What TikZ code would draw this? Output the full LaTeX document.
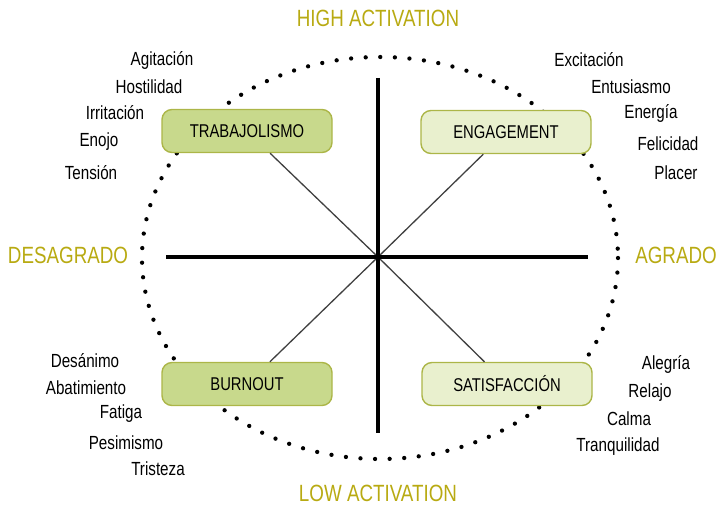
\documentclass[tikz,border=0pt]{standalone}
\usepackage{fontspec}
\setmainfont{Liberation Sans}[FakeStretch=0.8]
\definecolor{titleolive}{RGB}{184,170,18}
\definecolor{boxedge}{RGB}{172,182,72}
\definecolor{darkfill}{RGB}{200,217,140}
\definecolor{lightfill}{RGB}{233,240,206}
\tikzset{
  quadbox/.style={draw=boxedge, line width=1.4pt, rounded corners=10pt, minimum width=170pt, minimum height=43pt, font=\fontsize{18.5}{20}\selectfont},
  axislabel/.style={text=titleolive, font=\fontsize{23.5}{26}\selectfont},
  word/.style={black, font=\fontsize{19}{21}\selectfont, inner sep=0pt}
}
\begin{document}
\begin{tikzpicture}[x=1pt, y=-1pt]
    \useasboundingbox (0,0) rectangle (718,511);
    \coordinate (c) at (378,257);

    % dotted circle
    \draw[black, line width=4.3pt, line cap=round, dash pattern=on 0pt off 14.6pt] (380,258) ellipse[x radius=238, y radius=201];

    % boxes
    \node[quadbox, fill=darkfill] (trab) at (247,131) {TRABAJOLISMO};
    \node[quadbox, fill=lightfill] (eng) at (506,132) {ENGAGEMENT};
    \node[quadbox, fill=darkfill] (burn) at (247,384) {BURNOUT};
    \node[quadbox, fill=lightfill] (sat) at (507,384) {SATISFACCIÓN};

    % diagonals
    \foreach \b in {trab, eng, burn, sat}
      \draw[black!75, line width=1.3pt] (c) -- (\b);

    % axes
    \coordinate (top) at (378,78);
    \coordinate (bot) at (378,433);
    \coordinate (lft) at (166,257);
    \coordinate (rgt) at (588,257);
    \draw[black, line width=4pt] (top) -- (bot);
    \draw[black, line width=4pt] (lft) -- (rgt);

    % axis labels
    \node[axislabel] (high) at (378,18) {HIGH ACTIVATION};
    \node[axislabel] (low) at (378,493) {LOW ACTIVATION};
    \node[axislabel] (des) at (68,255) {DESAGRADO};
    \node[axislabel] (agr) at (676,255) {AGRADO};

    % emotion words
    \foreach \w/\x/\y [count=\i] in {Agitación/162/60, Hostilidad/149/87, Irritación/115/113, Enojo/99/142, Tensión/91/173,
        Excitación/589/60, Entusiasmo/631/87, Energía/651/113, Felicidad/668/144, Placer/676/173,
        Desánimo/85/361, Abatimiento/86/388, Fatiga/121/414, Pesimismo/126/443, Tristeza/158/469,
        Alegría/666/364, Relajo/650/393, Calma/629/419, Tranquilidad/618/447}
      \node[word] (w\i) at (\x,\y) {\w};
  \end{tikzpicture}
\end{document}
